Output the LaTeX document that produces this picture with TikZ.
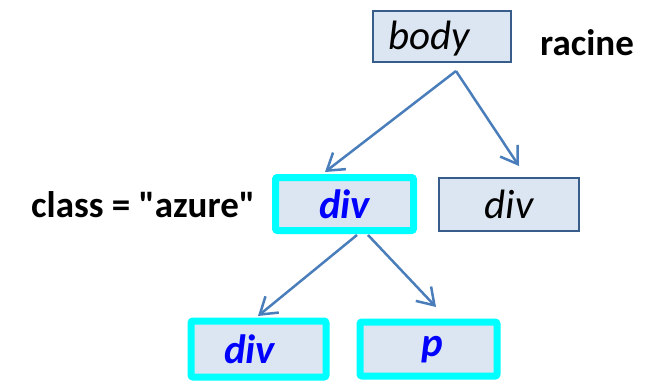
\documentclass[tikz,border=0pt]{standalone}
\usepackage{fontspec}
\setmainfont{Carlito}[Ligatures=TeXOff]
\usetikzlibrary{arrows.meta}
\definecolor{boxfill}{RGB}{220,230,242}
\definecolor{boxline}{RGB}{56,93,138}
\definecolor{arrowline}{RGB}{74,126,187}
\definecolor{hilite}{RGB}{0,255,255}
\definecolor{hitext}{RGB}{0,0,255}
\begin{document}
\begin{tikzpicture}[x=1pt,y=-1pt,
  plainbox/.style={draw=boxline, line width=2.5pt, fill=boxfill,
    minimum width=#1, minimum height=53pt, inner sep=0pt,
    font=\fontsize{41}{41}\selectfont\itshape},
  hibox/.style={draw=hilite, line width=7pt, fill=boxfill, rounded corners=2pt,
    minimum width=#1, minimum height=53pt, inner sep=0pt, text=hitext,
    font=\fontsize{41}{41}\selectfont\bfseries\itshape},
  sidelabel/.style={anchor=west, inner sep=0pt,
    font=\fontsize{37}{37}\selectfont\bfseries},
  link/.style={draw=arrowline, line width=2.5pt,
    -{Straight Barb[length=16pt,width=21pt]}}
]
\useasboundingbox (0,0) rectangle (654,391);

% tree nodes
\node[plainbox=138pt, minimum height=51pt, text height=35pt, text depth=10pt]
  (body) at (442,36.5) {body\kern26pt};
\node[plainbox=140pt] (divR) at (509,204.5) {div};
\node[hibox=138pt] (divA) at (344.5,204) {div};
\node[hibox=135pt, minimum height=56pt] (divB) at (258.5,349) {div\kern18pt};
\node[hibox=137pt, minimum height=54pt, text height=25pt, text depth=10pt]
  (p) at (428.5,349) {\kern7pt p};

% side labels
\node[sidelabel] (racine) at (540,43) {racine};
\node[sidelabel] (cls) at (31,205) {class = "azure"};

% connector ends
\coordinate (fork1) at (456,71);
\coordinate (tipA) at (325,172);
\coordinate (tipR) at (519,166);
\coordinate (forkL) at (357,235);
\coordinate (forkR) at (368,235);
\coordinate (tipB) at (258,316);
\coordinate (tipP) at (436,307);

\draw[link] (fork1) -- (tipA);
\draw[link] (fork1) -- (tipR);
\draw[link] (forkL) -- (tipB);
\draw[link] (forkR) -- (tipP);
\end{tikzpicture}
\end{document}
